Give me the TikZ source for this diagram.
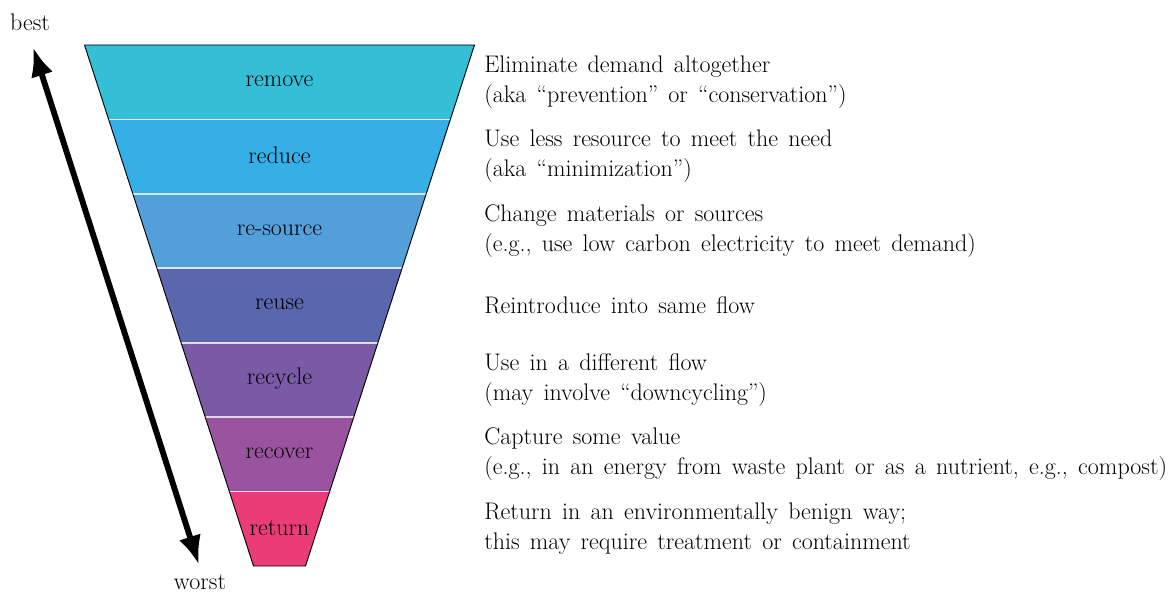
\documentclass[tikz,border=0pt]{standalone}
\usepackage{xcolor}
\usetikzlibrary{arrows.meta,positioning,calc}
\definecolor{cremove}{RGB}{53,191,215}
\definecolor{creduce}{RGB}{53,175,229}
\definecolor{cresource}{RGB}{83,159,218}
\definecolor{creuse}{RGB}{90,102,174}
\definecolor{crecycle}{RGB}{122,90,165}
\definecolor{crecover}{RGB}{154,83,158}
\definecolor{creturn}{RGB}{234,60,119}
\newcommand\notefont{\fontsize{18}{22.5}\selectfont\frenchspacing\spaceskip=7.7pt plus 1pt minus 1pt\relax}

\begin{document}
\begin{tikzpicture}[x=0.75pt,y=-0.75pt,
  lvl/.style={inner sep=1pt,font=\fontsize{18}{20}\selectfont},
  note/.style={anchor=west,align=left,inner sep=0pt,font=\notefont},
  tag/.style={inner sep=1pt,font=\fontsize{18}{20}\selectfont}]

\useasboundingbox (0,0) rectangle (1168,595);

\def\ytop{45}
\def\bandH{74.43}
\def\slope{0.3244}
\def\xmid{279.5}
\def\halfTop{195}

% the funnel, one band per level
\foreach \name/\col/\what [count=\ni] in {
  remove/cremove/{Eliminate demand altogether\\(aka ``prevention'' or ``conservation'')},
  reduce/creduce/{Use less resource to meet the need\\(aka ``minimization'')},
  re-source/cresource/{Change materials or sources\\(e.g., use low carbon electricity to meet demand)},
  reuse/creuse/{Reintroduce into same flow},
  recycle/crecycle/{Use in a different flow\\(may involve ``downcycling'')},
  recover/crecover/{Capture some value\\(e.g., in an energy from waste plant or as a nutrient, e.g., compost)},
  return/creturn/{Return in an environmentally benign way;\\this may require treatment or containment}}
{
  \pgfmathsetmacro\ya{\ytop+(\ni-1)*\bandH}
  \pgfmathsetmacro\yb{\ya+\bandH}
  \pgfmathsetmacro\wa{\halfTop-\slope*(\ya-\ytop)}
  \pgfmathsetmacro\wb{\halfTop-\slope*(\yb-\ytop)}
  \fill[\col] (\xmid-\wa,\ya) -- (\xmid+\wa,\ya) -- (\xmid+\wb,\yb) -- (\xmid-\wb,\yb) -- cycle;
  \node[lvl] (\name) at (\xmid,{(\ya+\yb)/2-1}) {\name};
  \node[note] (\name-note) at (484,{(\ya+\yb)/2}) {\what};
}

% white rules between the bands
\foreach \ni in {1,...,6}
{
  \pgfmathsetmacro\ya{\ytop+\ni*\bandH}
  \pgfmathsetmacro\wa{\halfTop-\slope*(\ya-\ytop)}
  \draw[white,opacity=0.75,line width=1.2pt] (\xmid-\wa,\ya) -- (\xmid+\wa,\ya);
}

% outline
\pgfmathsetmacro\wb{\halfTop-\slope*7*\bandH}
\draw[line width=0.7pt] (\xmid-\halfTop,\ytop) -- (\xmid+\halfTop,\ytop) -- (\xmid+\wb,\ytop+7*\bandH) -- (\xmid-\wb,\ytop+7*\bandH) -- cycle;

% best / worst arrow
\node[tag] (best) at (30,22) {best};
\node[tag] (worst) at (200,582) {worst};
\coordinate (up) at (33,47);
\coordinate (down) at (199,565);
\draw[line width=4.4pt,{Latex[length=22pt,width=17pt]}-{Latex[length=22pt,width=17pt]}] (down) -- (up);

\end{tikzpicture}
\end{document}
